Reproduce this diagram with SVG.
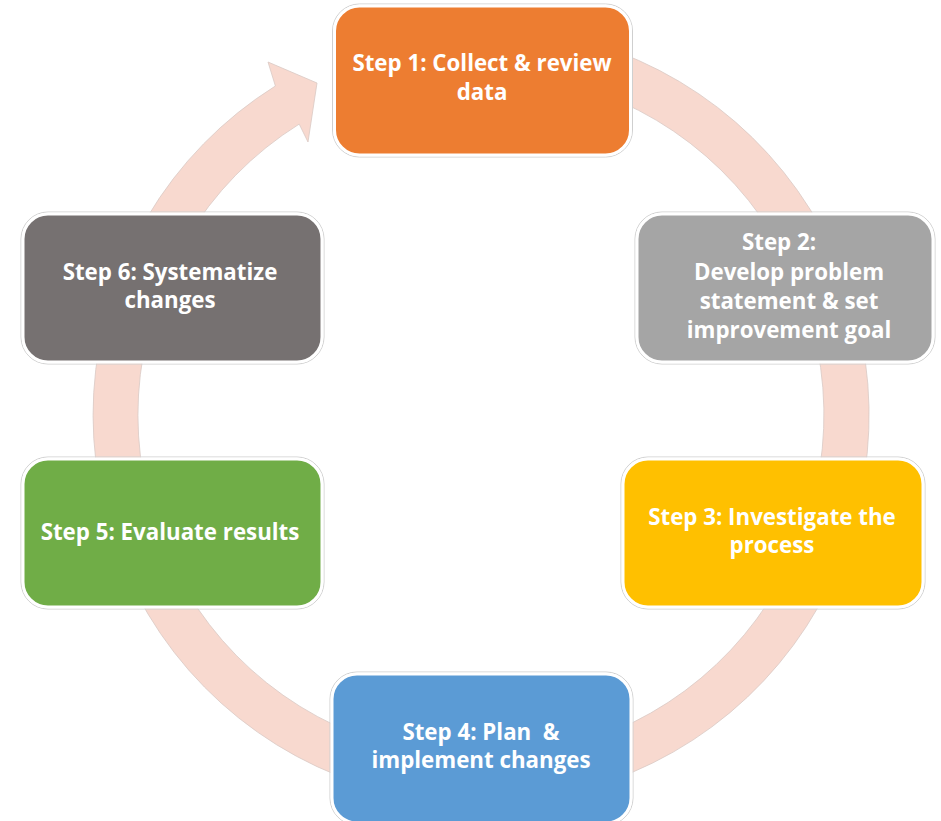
<svg xmlns="http://www.w3.org/2000/svg" width="941" height="821" viewBox="0 0 941 821">
<style>
.edge{fill:none;stroke:#cfcfcf;stroke-width:1}
.box{stroke:#ffffff;stroke-width:3}
.lbl{font-family:"Open Sans","Noto Sans","Liberation Sans",sans-serif;font-weight:bold;font-size:22.3px;fill:#ffffff;text-anchor:middle}
</style>
<rect x="0" y="0" width="941" height="821" fill="#ffffff"/>
<g id="connectors">
<path d="M481,27 A388,388 0 1 1 275.4,86 L268,62 L317,83 L308,142 L299.2,124.1 A343,343 0 1 0 481,72 Z" fill="#F8D9CF" stroke="#d9c9c4" stroke-width="0.8"/>
</g>
<g id="step1">
<rect class="edge" x="332.5" y="4" width="300" height="153" rx="27"/>
<rect class="box" x="334.5" y="6" width="296" height="149" rx="25" fill="#ED7D31"/>
<text class="lbl" x="482" y="71">Step 1: Collect &amp; review</text>
<text class="lbl" x="482" y="100">data</text>
</g>
<g id="step2">
<rect class="edge" x="635" y="212" width="300" height="152" rx="27"/>
<rect class="box" x="637" y="214" width="296" height="148" rx="25" fill="#A5A5A5"/>
<text class="lbl" x="779" y="250">Step 2:</text>
<text class="lbl" x="789" y="280">Develop problem</text>
<text class="lbl" x="789" y="309">statement &amp; set</text>
<text class="lbl" x="789" y="338">improvement goal</text>
</g>
<g id="step3">
<rect class="edge" x="621" y="457" width="304" height="152" rx="27"/>
<rect class="box" x="623" y="459" width="300" height="148" rx="25" fill="#FFC000"/>
<text class="lbl" x="772" y="525">Step 3: Investigate the</text>
<text class="lbl" x="772" y="553">process</text>
</g>
<g id="step4">
<rect class="edge" x="330" y="672" width="303" height="153" rx="27"/>
<rect class="box" x="332" y="674" width="299" height="149" rx="25" fill="#5B9BD5"/>
<text class="lbl" x="481" y="740" xml:space="preserve">Step 4: Plan  &amp;</text>
<text class="lbl" x="481" y="768">implement changes</text>
</g>
<g id="step5">
<rect class="edge" x="21" y="457" width="303" height="152" rx="27"/>
<rect class="box" x="23" y="459" width="299" height="148" rx="25" fill="#70AD47"/>
<text class="lbl" x="170" y="540">Step 5: Evaluate results</text>
</g>
<g id="step6">
<rect class="edge" x="21" y="212" width="303" height="152" rx="27"/>
<rect class="box" x="23" y="214" width="299" height="148" rx="25" fill="#767171"/>
<text class="lbl" x="170" y="280">Step 6: Systematize</text>
<text class="lbl" x="170" y="308">changes</text>
</g>
</svg>
